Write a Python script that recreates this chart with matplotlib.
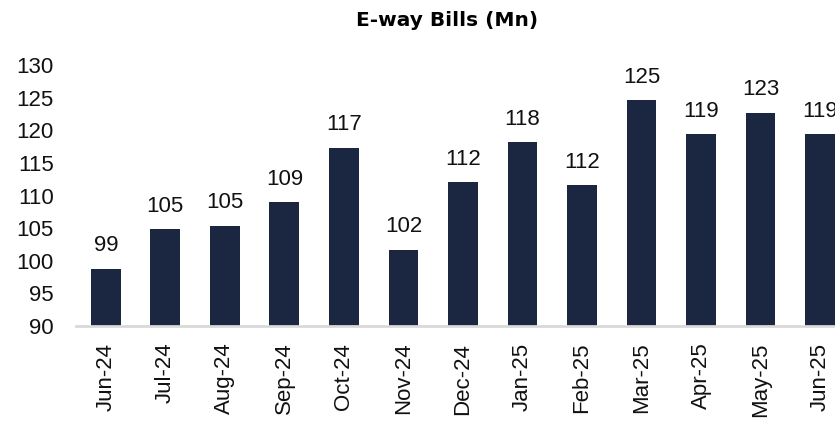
import matplotlib.pyplot as plt
import numpy as np

months = ['Jun-24', 'Jul-24', 'Aug-24', 'Sep-24', 'Oct-24', 'Nov-24', 'Dec-24',
          'Jan-25', 'Feb-25', 'Mar-25', 'Apr-25', 'May-25', 'Jun-25']
bills = [98.8, 104.8, 105.4, 109.0, 117.3, 101.7, 112.0,
         118.2, 111.6, 124.6, 119.4, 122.7, 119.4]
yticks = [90, 95, 100, 105, 110, 115, 120, 125, 130]

plt.rcParams['font.family'] = ['Liberation Sans', 'DejaVu Sans']

fig = plt.figure(figsize=(8.35, 4.25), dpi=100)
ax = fig.add_axes([0.091, 0.233, 0.909, 0.614])

x = np.arange(len(months))
ax.bar(x, bills, width=0.5, color='#1b2641', zorder=2)

for xi, v in zip(x, bills):
    ax.annotate(f'{v:.0f}', (xi, v), xytext=(0, 9), textcoords='offset points',
                ha='center', va='bottom', fontsize=16, color='#111111')

ax.set_xlim(-0.5, 12.25)
ax.set_ylim(90, 130)
ax.set_yticks(yticks)
ax.set_xticks(x)
ax.set_xticklabels(months, rotation=90)
ax.tick_params(axis='y', length=0, pad=16, labelsize=16, colors='#111111')
ax.tick_params(axis='x', length=0, pad=12, labelsize=16, colors='#111111')

for s in ['top', 'right', 'left']:
    ax.spines[s].set_visible(False)
ax.spines['bottom'].set_color('#d9d9d9')
ax.spines['bottom'].set_linewidth(2)

fig.text(0.535, 0.951, 'E-way Bills (Mn)', ha='center', va='center',
         fontsize=14.5, fontweight='bold', family=['DejaVu Sans'])

plt.savefig('out.png', dpi=100)
